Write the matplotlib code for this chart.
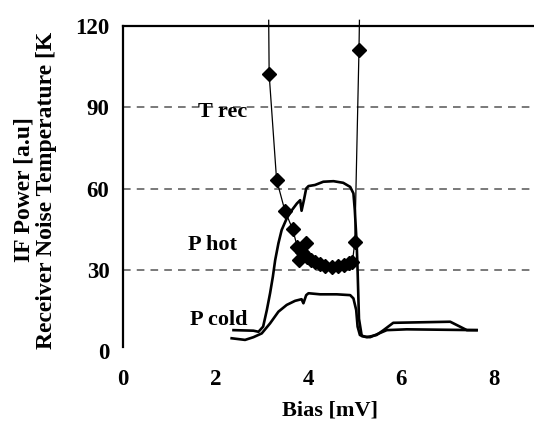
import matplotlib

matplotlib.use("Agg")
import matplotlib.pyplot as plt

# receiver noise temperature (diamonds) vs bias
trec_bias = [3.15, 3.31, 3.49, 3.66, 3.76, 3.80, 3.85, 3.95, 3.96, 4.05, 4.14,
             4.25, 4.36, 4.50, 4.64, 4.77, 4.88, 4.95, 5.00, 5.09]
trec_val = [102.1, 63.3, 51.8, 44.9, 38.3, 33.6, 36.7, 39.8, 34.8, 33.6, 33.0,
            32.2, 31.4, 31.2, 31.4, 31.8, 32.6, 33.0, 40.4, 111.0]
# the measured curve runs off the top of the plot on both sides
trec_end_bias = [3.14, 5.10]
trec_end_val = [122.0, 122.0]

# IF output power, hot load
hot_bias = [2.38, 2.81, 2.92, 3.02, 3.10, 3.17, 3.23, 3.28, 3.35, 3.42, 3.53,
            3.64, 3.75, 3.82, 3.85, 3.90, 3.95, 4.00, 4.14, 4.32, 4.54, 4.75,
            4.90, 4.97, 5.00, 5.04, 5.06, 5.09, 5.15, 5.26, 5.47, 5.62, 5.83,
            7.06, 7.27, 7.42, 7.63]
hot_val = [7.8, 7.6, 7.2, 9.1, 15.2, 21.4, 27.5, 33.6, 39.8, 44.7, 49.0,
           52.0, 54.5, 55.7, 51.8, 55.7, 60.0, 60.9, 61.3, 62.5, 62.7, 62.1,
           60.6, 58.2, 52.0, 39.8, 29.9, 12.0, 5.6, 5.2, 6.0, 7.8, 10.5,
           10.9, 9.1, 7.8, 7.8]

# IF output power, cold load
cold_bias = [2.34, 2.63, 2.81, 2.99, 3.17, 3.35, 3.53, 3.71, 3.85, 3.89, 3.95,
             4.00, 4.25, 4.61, 4.90, 4.97, 5.03, 5.06, 5.11, 5.22, 5.33, 5.69,
             6.12, 7.63]
cold_val = [4.8, 4.2, 5.2, 6.6, 10.3, 14.6, 17.1, 18.6, 19.2, 17.7, 20.7,
            21.4, 21.0, 21.0, 20.7, 19.5, 15.2, 9.1, 6.0, 5.4, 5.2, 7.8,
            8.1, 7.8]

grid_levels = [30, 60, 90]
y_ticks = [0, 30, 60, 90, 120]
x_ticks = [0, 2, 4, 6, 8]

plt.rcParams["font.family"] = ["Liberation Serif", "DejaVu Serif"]
plt.rcParams["font.weight"] = "bold"

fig = plt.figure(figsize=(5.34, 4.23), dpi=100)
ax = fig.add_axes([0.2309, 0.1695, 0.7691, 0.7697])

for lvl in grid_levels:
    ax.axhline(lvl, color="#555555", lw=1.1, dashes=(5, 4), zorder=1)

ax.plot(trec_bias, trec_val, color="black", lw=0.9, marker="D", ms=6.8,
        zorder=3)
ax.plot([trec_end_bias[0], trec_bias[0]], [trec_end_val[0], trec_val[0]],
        color="black", lw=0.9, clip_on=False, zorder=3)
ax.plot([trec_bias[-1], trec_end_bias[1]], [trec_val[-1], trec_end_val[1]],
        color="black", lw=0.9, clip_on=False, zorder=3)
ax.plot(hot_bias, hot_val, color="black", lw=1.9, zorder=2)
ax.plot(cold_bias, cold_val, color="black", lw=1.9, zorder=2)

ax.text(1.61, 88.3, "T rec", fontsize=16, fontweight="bold", va="center")
ax.text(1.40, 39.2, "P hot", fontsize=16, fontweight="bold", va="center")
ax.text(1.44, 11.5, "P cold", fontsize=16, fontweight="bold", va="center")

ax.set_xlim(0, 8.87)
ax.set_ylim(0, 120)
ax.set_xticks(x_ticks)
ax.set_yticks(y_ticks)
ax.tick_params(length=0, labelsize=16.5)
ax.tick_params(axis="y", pad=10)
ax.tick_params(axis="x", pad=13)
for lab in ax.get_xticklabels() + ax.get_yticklabels():
    lab.set_fontweight("bold")

ax.spines["right"].set_visible(False)
ax.spines["bottom"].set_visible(False)
ax.spines["top"].set_linewidth(1.6)
ax.spines["left"].set_linewidth(1.6)
ax.spines["left"].set_bounds(1.5, 120)

fig.text(0.618, 0.005, "Bias [mV]", ha="center", va="bottom", fontsize=16,
         fontweight="bold")
# the printed axis title stops at "[K" with no closing bracket
fig.text(0.066, 0.551, "IF Power [a.u]\nReceiver Noise Temperature [K",
         rotation=90, ha="center", va="center", fontsize=17,
         fontweight="bold", linespacing=1.08, multialignment="center")

fig.savefig("out.png", dpi=100)
